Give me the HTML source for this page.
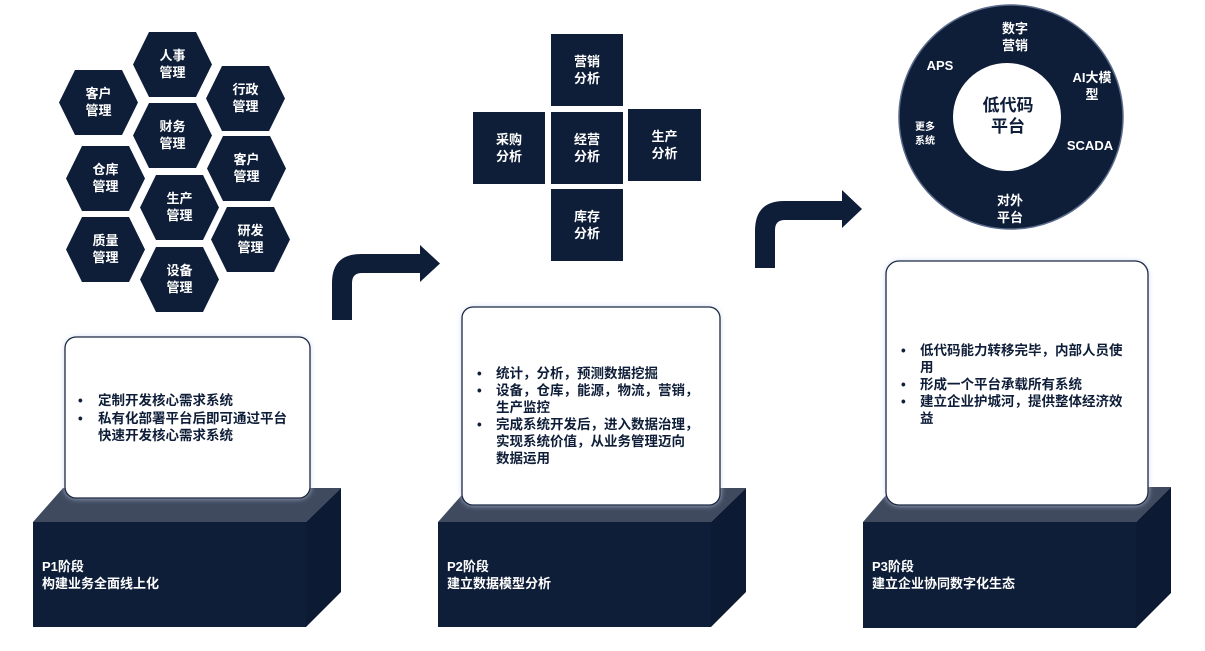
<!DOCTYPE html>
<html><head><meta charset="utf-8"><style>
body{margin:0;width:1205px;height:651px;background:#fff;position:relative;overflow:hidden;font-family:"Liberation Sans","Noto Sans CJK SC",sans-serif;font-weight:bold}
svg{position:absolute;left:0;top:0}
.t{position:absolute;font-size:13.5px;line-height:17px;color:#0f1e38;white-space:nowrap}
.w{position:absolute;font-size:13px;line-height:17px;color:#fff;white-space:nowrap}
.c{position:absolute;color:#fff;font-size:13px;line-height:17px;text-align:center}
</style></head><body>
<svg width="1205" height="651" viewBox="0 0 1205 651">
<defs>
<polygon id="hx" points="16,0 63,0 79,32.5 63,65 16,65 0,32.5" fill="#0f1e38"/>
<filter id="g" x="-10%" y="-10%" width="120%" height="120%"><feGaussianBlur stdDeviation="3"/></filter>
</defs>
<!-- hexes -->
<use href="#hx" x="133" y="32"/><use href="#hx" x="59" y="70"/><use href="#hx" x="206" y="66"/>
<use href="#hx" x="133" y="103"/><use href="#hx" x="66" y="146"/><use href="#hx" x="207" y="136"/>
<use href="#hx" x="140" y="175"/><use href="#hx" x="66" y="217"/><use href="#hx" x="211" y="207"/>
<use href="#hx" x="140" y="247"/>
<!-- cross -->
<g fill="#0f1e38">
<rect x="551" y="34" width="72" height="72"/><rect x="473" y="112" width="72" height="72"/>
<rect x="551" y="112" width="72" height="72"/><rect x="628" y="109" width="73" height="72"/>
<rect x="551" y="189" width="72" height="72"/>
</g>
<!-- ring -->
<circle cx="1011" cy="117" r="112" fill="#0f1e38" stroke="#5a6a8a" stroke-width="1.5"/>
<circle cx="1007" cy="117" r="54" fill="#fff"/>
<!-- arrows -->
<path d="M332 320 V283 Q332 254 361 254 H420 V245 L440 263.5 L420 282 V273 H362 Q352 273 352 283 V320 Z" fill="#0f1e38"/>
<path d="M755 268 V231 Q755 201 784 201 H842 V190 L862 209 L842 228 V220 H785 Q775 220 775 230 V268 Z" fill="#0f1e38"/>
<!-- boxes -->
<g>
<polygon points="33,522 63,488 341,488 306,522" fill="#3f4a5f"/>
<polygon points="306,522 341,488 341,592 306,627" fill="#0c1a33"/>
<rect x="33" y="522" width="273" height="105" fill="#0f1e38"/>
<polygon points="438,522 468,488 746,488 711,522" fill="#3f4a5f"/>
<polygon points="711,522 746,488 746,592 711,627" fill="#0c1a33"/>
<rect x="438" y="522" width="273" height="105" fill="#0f1e38"/>
<polygon points="863,522 893,487 1171,487 1136,522" fill="#3f4a5f"/>
<polygon points="1136,522 1171,487 1171,593 1136,628" fill="#0c1a33"/>
<rect x="863" y="522" width="273" height="106" fill="#0f1e38"/>
</g>
<!-- cards -->
<g>
<rect x="65" y="337" width="245" height="161" rx="11" fill="#c9d6f0" filter="url(#g)"/>
<rect x="65" y="337" width="245" height="161" rx="11" fill="#fff" stroke="#1c2840" stroke-width="1.3"/>
<rect x="462" y="307" width="258" height="198" rx="11" fill="#c9d6f0" filter="url(#g)"/>
<rect x="462" y="307" width="258" height="198" rx="11" fill="#fff" stroke="#1c2840" stroke-width="1.3"/>
<rect x="886" y="261" width="262" height="244" rx="13" fill="#c9d6f0" filter="url(#g)"/>
<rect x="886" y="261" width="262" height="244" rx="13" fill="#fff" stroke="#1c2840" stroke-width="1.3"/>
</g>
</svg>
<!-- hex labels -->
<div class="c" style="left:133px;top:47px;width:79px">人事<br>管理</div>
<div class="c" style="left:59px;top:85px;width:79px">客户<br>管理</div>
<div class="c" style="left:206px;top:81px;width:79px">行政<br>管理</div>
<div class="c" style="left:133px;top:118px;width:79px">财务<br>管理</div>
<div class="c" style="left:66px;top:161px;width:79px">仓库<br>管理</div>
<div class="c" style="left:207px;top:151px;width:79px">客户<br>管理</div>
<div class="c" style="left:140px;top:190px;width:79px">生产<br>管理</div>
<div class="c" style="left:66px;top:232px;width:79px">质量<br>管理</div>
<div class="c" style="left:211px;top:222px;width:79px">研发<br>管理</div>
<div class="c" style="left:140px;top:262px;width:79px">设备<br>管理</div>
<!-- cross labels -->
<div class="c" style="left:551px;top:53px;width:72px">营销<br>分析</div>
<div class="c" style="left:473px;top:131px;width:72px">采购<br>分析</div>
<div class="c" style="left:551px;top:131px;width:72px">经营<br>分析</div>
<div class="c" style="left:628px;top:128px;width:73px">生产<br>分析</div>
<div class="c" style="left:551px;top:208px;width:72px">库存<br>分析</div>
<!-- ring labels -->
<div class="c" style="left:990px;top:20px;width:50px">数字<br>营销</div>
<div class="c" style="left:915px;top:57px;width:50px">APS</div>
<div class="c" style="left:1062px;top:69px;width:60px">AI大模<br>型</div>
<div class="c" style="left:900px;top:121px;width:50px;font-size:10px;line-height:14px">更多<br>系统</div>
<div class="c" style="left:1062px;top:137px;width:56px">SCADA</div>
<div class="c" style="left:985px;top:192px;width:50px">对外<br>平台</div>
<div class="c" style="left:972px;top:95px;width:72px;color:#0f1e38;font-size:17px;line-height:21px">低代码<br>平台</div>
<!-- card text -->
<div class="t" style="left:78px;top:392px">•</div>
<div class="t" style="left:98px;top:392px">定制开发核心需求系统</div>
<div class="t" style="left:78px;top:410px">•</div>
<div class="t" style="left:98px;top:410px">私有化部署平台后即可通过平台<br>快速开发核心需求系统</div>

<div class="t" style="left:477px;top:365px">•</div>
<div class="t" style="left:496px;top:365px">统计，分析，预测数据挖掘</div>
<div class="t" style="left:477px;top:382px">•</div>
<div class="t" style="left:496px;top:382px">设备，仓库，能源，物流，营销，<br>生产监控</div>
<div class="t" style="left:477px;top:416px">•</div>
<div class="t" style="left:496px;top:416px">完成系统开发后，进入数据治理，<br>实现系统价值，从业务管理迈向<br>数据运用</div>

<div class="t" style="left:901px;top:342px">•</div>
<div class="t" style="left:920px;top:342px">低代码能力转移完毕，内部人员使<br>用</div>
<div class="t" style="left:901px;top:376px">•</div>
<div class="t" style="left:920px;top:376px">形成一个平台承载所有系统</div>
<div class="t" style="left:901px;top:393px">•</div>
<div class="t" style="left:920px;top:393px">建立企业护城河，提供整体经济效<br>益</div>
<!-- box labels -->
<div class="w" style="left:42px;top:558px">P1阶段<br>构建业务全面线上化</div>
<div class="w" style="left:447px;top:558px">P2阶段<br>建立数据模型分析</div>
<div class="w" style="left:872px;top:558px">P3阶段<br>建立企业协同数字化生态</div>
</body></html>
